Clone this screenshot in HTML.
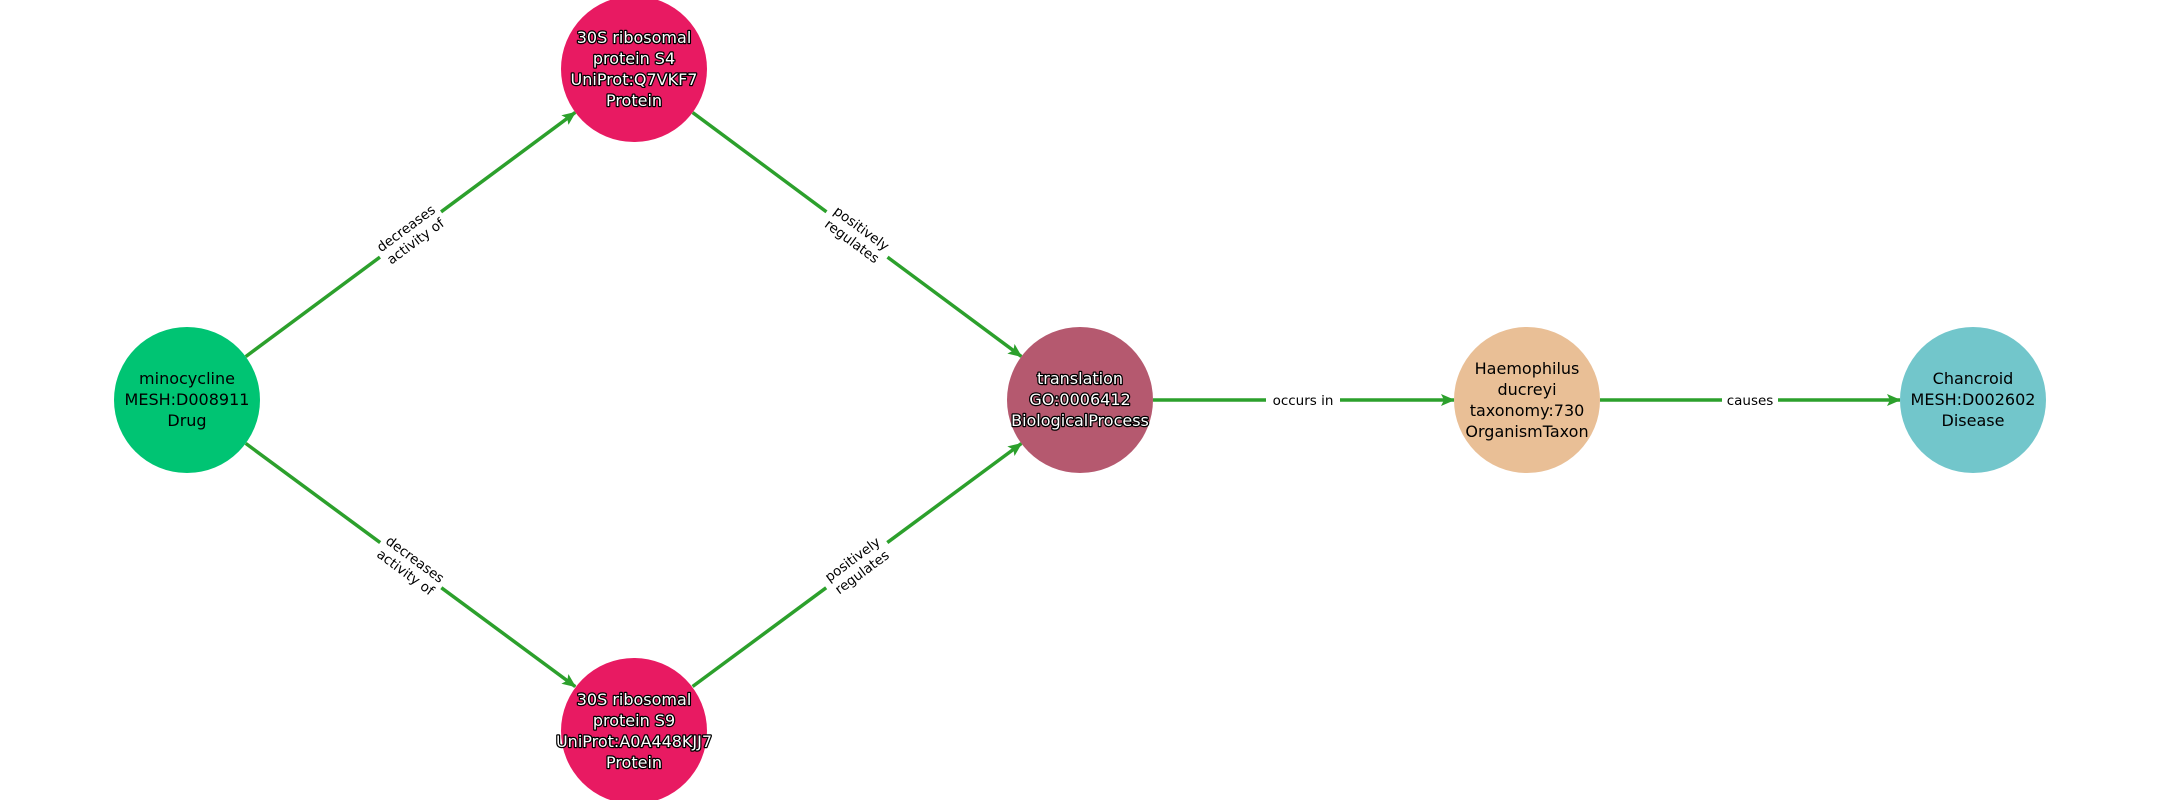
<!DOCTYPE html>
<html><head><meta charset="utf-8"><style>
html,body{margin:0;padding:0;background:#fff;}
svg{display:block;font-family:"DejaVu Sans","Liberation Sans",sans-serif;}
.n{font-size:16px;text-anchor:middle;}
.w{fill:#fff;stroke:#000;stroke-width:2.5px;paint-order:stroke;stroke-linejoin:round;}
.e{font-size:13.5px;text-anchor:middle;fill:#000;}
</style></head><body>
<svg width="2160" height="800" viewBox="0 0 2160 800" xmlns="http://www.w3.org/2000/svg">
<defs>
<marker id="a" markerUnits="userSpaceOnUse" markerWidth="14" markerHeight="12" refX="13" refY="6" orient="auto">
<path d="M0,0 L14,6 L0,12 L3,6 z" fill="#2ca02c"/>
</marker>
</defs>
<g stroke="#2ca02c" stroke-width="3.5" fill="none" marker-end="url(#a)">
<line x1="245.7" y1="356.6" x2="575.3" y2="112.4"/>
<line x1="692.6" y1="112.5" x2="1021.4" y2="356.5"/>
<line x1="245.7" y1="443.4" x2="575.3" y2="686.6"/>
<line x1="692.6" y1="686.5" x2="1021.4" y2="443.5"/>
<line x1="1153" y1="400" x2="1454" y2="400"/>
<line x1="1600" y1="400" x2="1900" y2="400"/>
</g>
<g transform="translate(410.5,234.5) rotate(-36.5)">
<rect x="-38" y="-19" width="76" height="38" fill="#fff"/>
<text class="e" y="-3">decreases</text><text class="e" y="13">activity of</text></g>
<g transform="translate(857,234.5) rotate(36.5)">
<rect x="-38" y="-19" width="76" height="38" fill="#fff"/>
<text class="e" y="-3">positively</text><text class="e" y="13">regulates</text></g>
<g transform="translate(410.5,565.5) rotate(36.5)">
<rect x="-38" y="-19" width="76" height="38" fill="#fff"/>
<text class="e" y="-3">decreases</text><text class="e" y="13">activity of</text></g>
<g transform="translate(857,565.5) rotate(-36.5)">
<rect x="-38" y="-19" width="76" height="38" fill="#fff"/>
<text class="e" y="-3">positively</text><text class="e" y="13">regulates</text></g>
<rect x="1266" y="390" width="74" height="20" fill="#fff"/>
<text class="e" x="1303" y="405">occurs in</text>
<rect x="1722" y="390" width="56" height="20" fill="#fff"/>
<text class="e" x="1750" y="405">causes</text>
<circle cx="187" cy="400" r="73" fill="#00c473"/>
<text class="n" x="187" y="384">minocycline</text>
<text class="n" x="187" y="405">MESH:D008911</text>
<text class="n" x="187" y="426">Drug</text>
<circle cx="634" cy="69" r="73" fill="#e81a62"/>
<text class="n w" x="634" y="43">30S ribosomal</text>
<text class="n w" x="634" y="64">protein S4</text>
<text class="n w" x="634" y="85">UniProt:Q7VKF7</text>
<text class="n w" x="634" y="106">Protein</text>
<circle cx="634" cy="731" r="73" fill="#e81a62"/>
<text class="n w" x="634" y="705">30S ribosomal</text>
<text class="n w" x="634" y="726">protein S9</text>
<text class="n w" x="634" y="747">UniProt:A0A448KJJ7</text>
<text class="n w" x="634" y="768">Protein</text>
<circle cx="1080" cy="400" r="73" fill="#b5596f"/>
<text class="n w" x="1080" y="384">translation</text>
<text class="n w" x="1080" y="405">GO:0006412</text>
<text class="n w" x="1080" y="426">BiologicalProcess</text>
<circle cx="1527" cy="400" r="73" fill="#e9bf96"/>
<text class="n" x="1527" y="374">Haemophilus</text>
<text class="n" x="1527" y="395">ducreyi</text>
<text class="n" x="1527" y="416">taxonomy:730</text>
<text class="n" x="1527" y="437">OrganismTaxon</text>
<circle cx="1973" cy="400" r="73" fill="#72c6cb"/>
<text class="n" x="1973" y="384">Chancroid</text>
<text class="n" x="1973" y="405">MESH:D002602</text>
<text class="n" x="1973" y="426">Disease</text>
</svg>
</body></html>
